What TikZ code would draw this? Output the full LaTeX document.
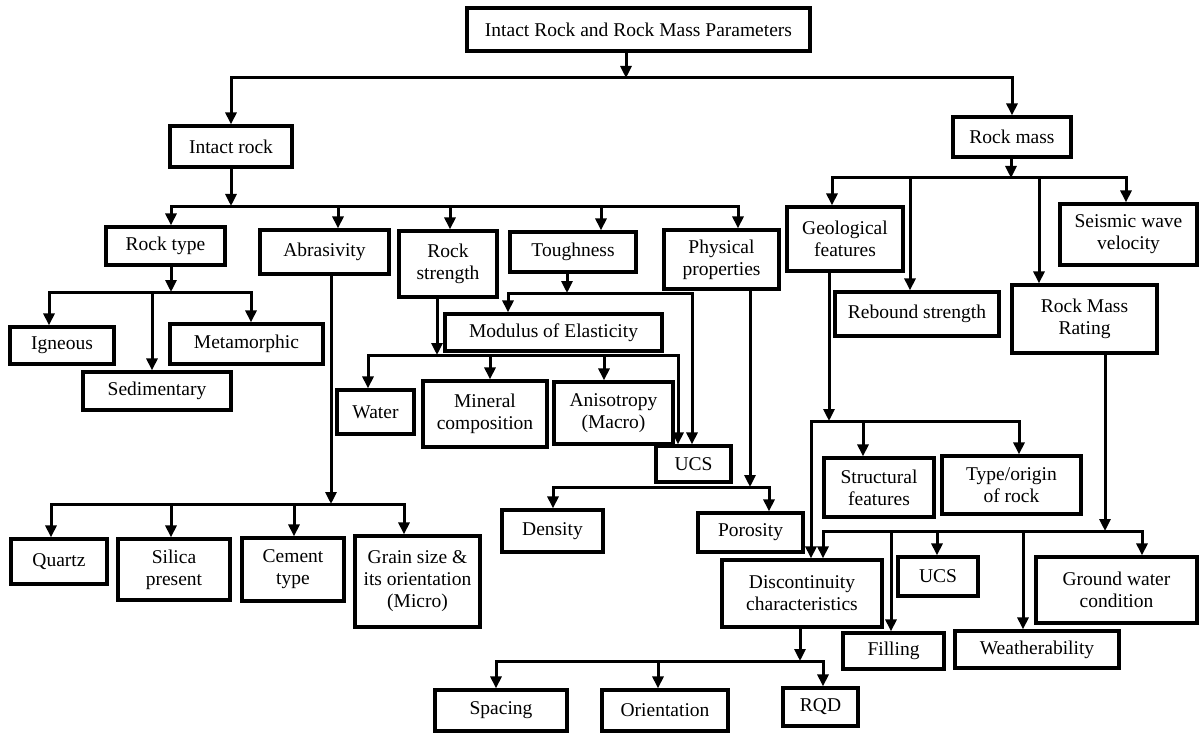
\documentclass[tikz,border=0pt]{standalone}
\usepackage{fontspec}
\setmainfont{Liberation Serif}
\usetikzlibrary{arrows.meta}
\tikzset{
  box/.style={draw, line width=3.2pt, inner sep=0pt, align=center,
    font=\fontsize{19.5}{22}\selectfont},
  ln/.style={line width=3pt},
  arr/.style={ln, -{Triangle[length=12pt,width=11pt]}}
}
\newcommand\bx[6]{\node[box, minimum width={(#4-#2)*1pt}, minimum height={(#5-#3)*1pt}] (#1) at ({(#2+#4)/2},{(#3+#5)/2}) {#6};}
\newcommand\mydrop[3]{\coordinate (d) at (#1,#2); \draw[arr] (d) -- (d |- #3.north);}
\newcommand\mystem[3]{\coordinate (s) at (#1,#2); \draw[arr] (s |- #3.south) -- (s);}
\newcommand\mybus[3]{\draw[ln, line cap=rect] (#1,#3) -- (#2,#3);}
\begin{document}
\begin{tikzpicture}[x=1pt,y=-1pt]
\useasboundingbox (0,0) rectangle (1200,733);
% nodes
\bx{top}{467}{8}{810}{51}{Intact Rock and Rock Mass Parameters}
\bx{intact}{170}{126}{292}{167}{Intact rock}
\bx{rmass}{953}{117}{1071}{157}{Rock mass}
\bx{rtype}{106}{227}{225}{265}{Rock type}
\bx{abras}{260}{230}{389}{274}{Abrasivity}
\bx{rstr}{399}{231}{497}{297}{Rock\\strength}
\bx{tough}{510}{232}{636}{272}{Toughness}
\bx{phys}{664}{230}{779}{289}{Physical\\properties}
\bx{ign}{10}{327}{114}{364}{Igneous}
\bx{sed}{83}{372}{231}{410}{Sedimentary}
\bx{meta}{170}{324}{323}{364}{Metamorphic}
\bx{moe}{445}{314}{662}{351}{Modulus of Elasticity}
\bx{water}{337}{390}{414}{434}{Water}
\bx{mineral}{423}{381}{547}{447}{Mineral\\composition}
\bx{aniso}{554}{382}{673}{444}{Anisotropy\\(Macro)}
\bx{ucsa}{656}{446}{731}{482}{UCS}
\bx{density}{502}{510}{603}{552}{Density}
\bx{poros}{698}{513}{803}{552}{Porosity}
\bx{quartz}{11}{539}{107}{584}{Quartz}
\bx{silica}{118}{539}{230}{600}{Silica\\present}
\bx{cement}{242}{538}{344}{601}{Cement\\type}
\bx{grain}{355}{536}{480}{627}{Grain size \&\\its orientation\\(Micro)}
\bx{geo}{787}{207}{903}{271}{Geological\\features}
\bx{rebound}{835}{292}{999}{336}{Rebound strength}
\bx{rmr}{1012}{285}{1157}{353}{Rock Mass\\Rating}
\bx{seismic}{1060}{204}{1197}{265}{Seismic wave\\velocity}
\bx{struct}{824}{458}{934}{517}{Structural\\features}
\bx{typeo}{942}{456}{1081}{514}{Type/origin\\of rock}
\bx{disc}{722}{560}{882}{627}{Discontinuity\\characteristics}
\bx{ucsb}{898}{557}{978}{596}{UCS}
\bx{ground}{1036}{557}{1197}{623}{Ground water\\condition}
\bx{filling}{843}{633}{944}{669}{Filling}
\bx{weather}{955}{631}{1119}{668}{Weatherability}
\bx{spacing}{435}{690}{567}{731}{Spacing}
\bx{orient}{602}{690}{728}{731}{Orientation}
\bx{rqd}{783}{688}{858}{726}{RQD}
% G1
\mystem{626}{78}{top}
\mybus{231}{1012}{78}
\mydrop{231}{78}{intact}
\mydrop{1012}{78}{rmass}
% G2
\mystem{231}{206}{intact}
\mybus{171}{738}{206}
\mydrop{171}{206}{rtype}
\mydrop{338}{206}{abras}
\mydrop{450}{206}{rstr}
\mydrop{601}{206}{tough}
\mydrop{738}{206}{phys}
% G3
\mystem{171}{292}{rtype}
\mybus{49}{251}{292}
\mydrop{49}{292}{ign}
\mydrop{251}{292}{meta}
\mydrop{152}{292}{sed}
% G4
\mystem{331}{504}{abras}
\mybus{51}{404}{504}
\mydrop{51}{504}{quartz}
\mydrop{171}{504}{silica}
\mydrop{294}{504}{cement}
\mydrop{404}{504}{grain}
% G5
\mystem{437}{355}{rstr}
\mybus{368}{678}{355}
\mydrop{368}{355}{water}
\mydrop{490}{355}{mineral}
\mydrop{604}{355}{aniso}
\mydrop{678}{355}{ucsa}
% G6
\mystem{567}{293}{tough}
\mybus{508}{692}{293}
\mydrop{508}{293}{moe}
\mydrop{692}{293}{ucsa}
% G7
\mystem{750}{487}{phys}
\mybus{553}{769}{487}
\mydrop{553}{487}{density}
\mydrop{769}{487}{poros}
% G8
\mystem{1011}{178}{rmass}
\mybus{832}{1126}{178}
\mydrop{832}{178}{geo}
\mydrop{910}{178}{rebound}
\mydrop{1039}{178}{rmr}
\mydrop{1126}{178}{seismic}
% G9
\mystem{829}{421}{geo}
\mybus{811}{1019}{421}
\mydrop{863}{421}{struct}
\mydrop{1019}{421}{typeo}
\mydrop{811}{421}{disc}
% G10
\mystem{1105}{531}{rmr}
\mybus{823}{1142}{531}
\mydrop{823}{531}{disc}
\mydrop{891}{531}{filling}
\mydrop{937}{531}{ucsb}
\mydrop{1023}{531}{weather}
\mydrop{1142}{531}{ground}
% G11
\mystem{800}{661}{disc}
\mybus{496}{823}{661}
\mydrop{496}{661}{spacing}
\mydrop{658}{661}{orient}
\mydrop{823}{661}{rqd}
\end{tikzpicture}
\end{document}
